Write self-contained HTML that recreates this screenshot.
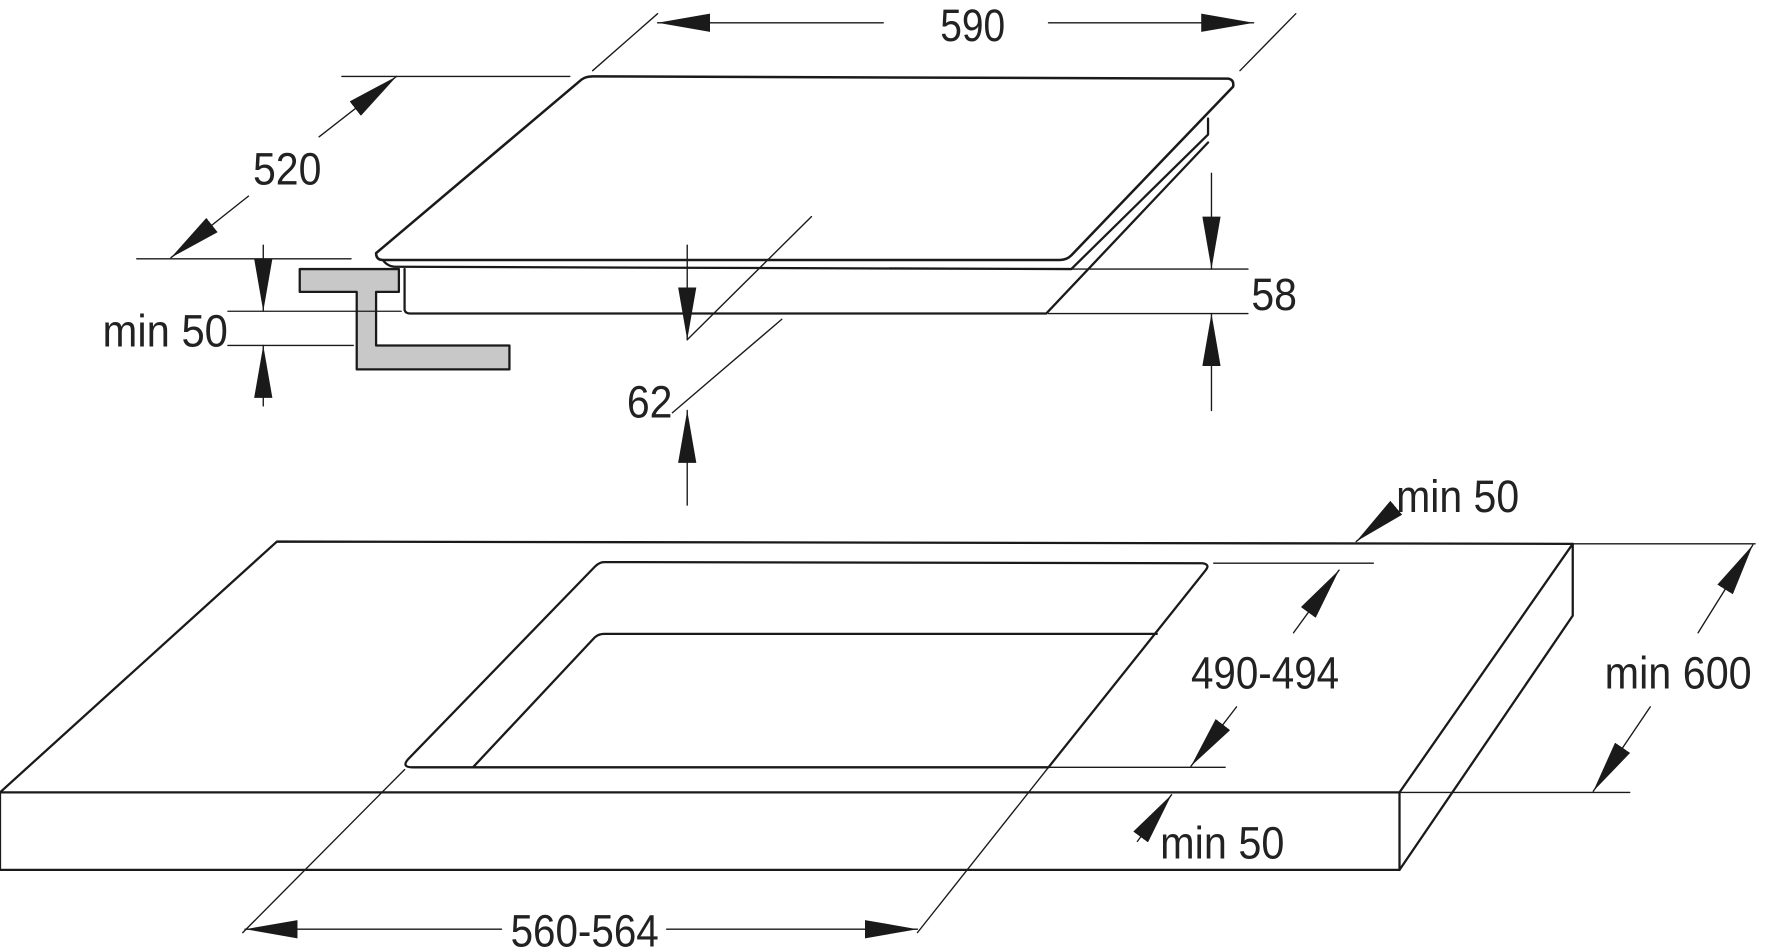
<!DOCTYPE html>
<html><head><meta charset="utf-8"><style>
html,body{margin:0;padding:0;background:#fff;}
svg{display:block;}
text{font-family:"Liberation Sans Narrow","Liberation Sans",sans-serif;font-size:40px;fill:#222;}
</style></head><body>
<svg width="1787" height="952" viewBox="0 0 1568 835" preserveAspectRatio="none" xmlns="http://www.w3.org/2000/svg">
<defs>
<marker id="a" viewBox="0 0 46 16" refX="46" refY="8" markerWidth="46" markerHeight="16" markerUnits="userSpaceOnUse" orient="auto">
<path d="M0,0 L46,8 L0,16 Z" fill="#1a1a1a"/>
</marker>
</defs>
<g fill="none" stroke="#1a1a1a" stroke-linecap="round" stroke-linejoin="round">
<path d="M330,222 L510,70 Q514,67 520,67 L1078,69 Q1083,70 1082,76 L940,224 Q936,228 930,228 L336,228 Q330,228 330,222 Z" stroke-width="2.2"/>
<path d="M336,228 Q340,234 348,234 L940,236 L1060,118 L1060,104" stroke-width="2"/>
<path d="M355,236 L355,272 Q356,275 360,275 L918,275 L1060,125" stroke-width="2"/>
<path d="M263,236 L350,236 L350,256 L330,256 L330,303 L447,303 L447,324 L313,324 L313,256 L263,256 Z" fill="#c8c8c8" stroke-width="2"/>
<g stroke-width="1.2">
<line x1="520" y1="62" x2="577" y2="12"/><line x1="1088" y1="62" x2="1137" y2="12"/>
<line x1="775" y1="20" x2="577" y2="20" marker-end="url(#a)"/>
<line x1="920" y1="20" x2="1100" y2="20" marker-end="url(#a)"/>
<line x1="300" y1="67" x2="500" y2="67"/><line x1="120" y1="227" x2="308" y2="227"/>
<line x1="218" y1="172" x2="150" y2="226" marker-end="url(#a)"/>
<line x1="280" y1="120" x2="348" y2="67" marker-end="url(#a)"/>
<line x1="940" y1="236" x2="1095" y2="236"/><line x1="920" y1="275" x2="1095" y2="275"/>
<line x1="1063" y1="152" x2="1063" y2="236" marker-end="url(#a)"/>
<line x1="1063" y1="360" x2="1063" y2="275" marker-end="url(#a)"/>
<line x1="603" y1="298" x2="712" y2="190"/><line x1="590" y1="362" x2="686" y2="280"/>
<line x1="603" y1="215" x2="603" y2="298" marker-end="url(#a)"/>
<line x1="603" y1="443" x2="603" y2="360" marker-end="url(#a)"/>
<line x1="200" y1="273" x2="352" y2="273"/><line x1="200" y1="303" x2="310" y2="303"/>
<line x1="231" y1="215" x2="231" y2="273" marker-end="url(#a)"/>
<line x1="231" y1="356" x2="231" y2="303" marker-end="url(#a)"/>
</g>
<path d="M243,475 L1380,477 L1228,695 L0,695 Z" stroke-width="2"/>
<path d="M0,695 L0,763 L1228,763 L1228,695" stroke-width="2"/>
<path d="M1380,477 L1380,540 L1228,763" stroke-width="2"/>
<path d="M530,493 L1055,494 Q1062,495 1058,500 L920,673 L362,673 Q352,673 358,666 L522,497 Q526,493 530,493 Z" stroke-width="2"/>
<path d="M1015,556 L530,556 Q524,556 520,561 L415,673" stroke-width="2"/>
<g stroke-width="1.2">
<line x1="1065" y1="494" x2="1205" y2="494"/><line x1="920" y1="673" x2="1075" y2="673"/>
<line x1="1135" y1="555" x2="1175" y2="500" marker-end="url(#a)"/>
<line x1="1085" y1="620" x2="1045" y2="672" marker-end="url(#a)"/>
<line x1="1380" y1="477" x2="1540" y2="477"/><line x1="1228" y1="695" x2="1430" y2="695"/>
<line x1="1490" y1="555" x2="1538" y2="478" marker-end="url(#a)"/>
<line x1="1448" y1="620" x2="1398" y2="694" marker-end="url(#a)"/>
<line x1="1222" y1="448" x2="1190" y2="475" marker-end="url(#a)"/>
<line x1="998" y1="738" x2="1028" y2="697" marker-end="url(#a)"/>
<line x1="213" y1="818" x2="355" y2="675"/><line x1="805" y1="818" x2="920" y2="673"/>
<line x1="440" y1="815" x2="215" y2="815" marker-end="url(#a)"/>
<line x1="585" y1="815" x2="805" y2="815" marker-end="url(#a)"/>
</g>
</g>
<text x="825" y="36" textLength="57" lengthAdjust="spacingAndGlyphs">590</text>
<text x="222" y="162" textLength="60" lengthAdjust="spacingAndGlyphs">520</text>
<text x="1098" y="272" textLength="40" lengthAdjust="spacingAndGlyphs">58</text>
<text x="550" y="366" textLength="40" lengthAdjust="spacingAndGlyphs">62</text>
<text x="90" y="304" textLength="110" lengthAdjust="spacingAndGlyphs">min 50</text>
<text x="1225" y="449" textLength="108" lengthAdjust="spacingAndGlyphs">min 50</text>
<text x="1045" y="604" textLength="130" lengthAdjust="spacingAndGlyphs">490-494</text>
<text x="1408" y="604" textLength="129" lengthAdjust="spacingAndGlyphs">min 600</text>
<text x="1018" y="753" textLength="109" lengthAdjust="spacingAndGlyphs">min 50</text>
<text x="448" y="830" textLength="130" lengthAdjust="spacingAndGlyphs">560-564</text>
</svg>
</body></html>
